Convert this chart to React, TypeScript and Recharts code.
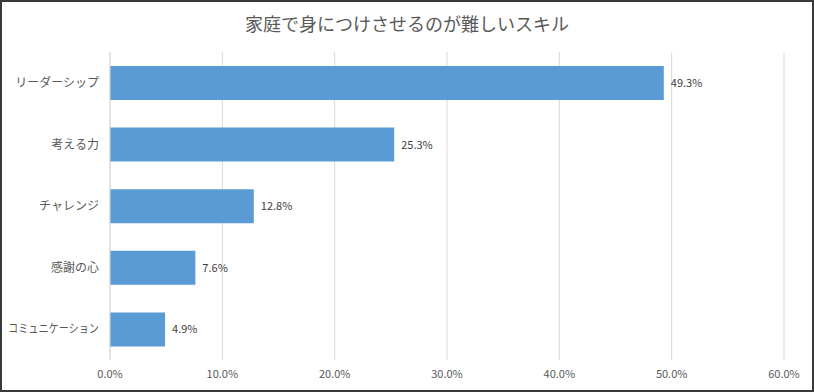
import React from "react";
import { BarChart, Bar, XAxis, YAxis, CartesianGrid, LabelList } from "recharts";

// Values (percent)
const skills = ["リーダーシップ", "考える力", "チャレンジ", "感謝の心", "コミュニケーション"];
const shares = [49.3, 25.3, 12.8, 7.6, 4.9];
const xTicks = [0, 10, 20, 30, 40, 50, 60];

const data = skills.map((name, i) => ({ name, value: shares[i] }));

const FONT = '"Noto Sans CJK JP", "Noto Sans", sans-serif';
const GRID = "#d9d9d9";
const TEXT = "#595959";

// Category tick: squeeze long labels so they fit left of the axis like the original
const CategoryTick = (props: any) => {
  const { x, y, payload } = props;
  const label = String(payload.value);
  const long = label.length > 7;
  return (
    <text
      x={x - 3}
      y={y}
      dy="0.35em"
      textAnchor="end"
      fontSize={12}
      fill={TEXT}
      fontFamily={FONT}
      {...(long ? { textLength: 91, lengthAdjust: "spacingAndGlyphs" } : {})}
    >
      {label}
    </text>
  );
};

export default function App() {
  return (
    <div
      style={{
        position: "absolute",
        left: 0,
        top: 0,
        width: 814,
        height: 392,
        boxSizing: "border-box",
        border: "2px solid #3a3a3a",
        background: "#fff",
        fontFamily: FONT,
      }}
    >
      {/* Title */}
      <div
        style={{
          position: "absolute",
          left: 0,
          right: 0,
          top: 9,
          textAlign: "center",
          fontSize: 18,
          color: TEXT,
          lineHeight: "24px",
        }}
      >
        家庭で身につけさせるのが難しいスキル
      </div>
      <BarChart
        width={810}
        height={388}
        data={data}
        layout="vertical"
        margin={{ top: 50, right: 28, bottom: 0, left: 0 }}
        barSize={34}
      >
        <CartesianGrid horizontal={false} stroke={GRID} />
        <XAxis
          type="number"
          domain={[0, 60]}
          ticks={xTicks}
          tickFormatter={(v) => `${Number(v).toFixed(1)}%`}
          axisLine={false}
          tickLine={false}
          tickMargin={4}
          height={30}
          tick={{ fontSize: 11, fill: TEXT, fontFamily: FONT }}
          interval={0}
        />
        <YAxis
          type="category"
          dataKey="name"
          width={108}
          axisLine={{ stroke: GRID }}
          tickLine={false}
          tick={<CategoryTick />}
          interval={0}
        />
        <Bar dataKey="value" fill="#5b9bd5" isAnimationActive={false}>
          <LabelList
            dataKey="value"
            position="right"
            offset={7}
            formatter={(v: any) => `${Number(v).toFixed(1)}%`}
            style={{ fontSize: 11, fill: "#404040", fontFamily: FONT }}
          />
        </Bar>
      </BarChart>
    </div>
  );
}
